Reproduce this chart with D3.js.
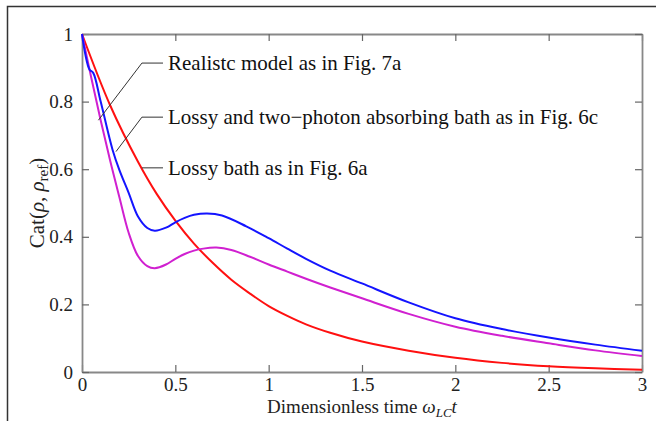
<!DOCTYPE html>
<html>
<head>
<meta charset="utf-8">
<script src="https://cdn.jsdelivr.net/npm/d3@7"></script>
<style>
  body { margin: 0; background: #fff; }
  svg { display: block; }
  svg text { font-family: "Liberation Serif", "Times New Roman", Times, "DejaVu Serif", serif; }
  .tick text { font-size: 19px; fill: #222; }
</style>
</head>
<body>
<script>
// sizes
const w = 656;
const h = 421;
const padL = 82, padR = 642, padT = 34, padB = 372;

// curves (time, value)
const redT  = [0, 0.15, 0.3, 0.4, 0.5, 0.6, 0.7, 0.8, 0.9, 1.0, 1.1, 1.2, 1.33, 1.5, 1.75, 2.0, 2.25, 2.5, 2.75, 3.0];
const redV  = [1.0, 0.79, 0.622, 0.527, 0.448, 0.38, 0.323, 0.273, 0.232, 0.195, 0.166, 0.141, 0.116, 0.09, 0.063, 0.042, 0.027, 0.017, 0.011, 0.007];

const blueT = [0, 0.04, 0.06, 0.1, 0.164, 0.2, 0.25, 0.3, 0.35, 0.39, 0.45, 0.5, 0.55, 0.6, 0.67, 0.75, 0.88, 1.0, 1.1, 1.2, 1.33, 1.5, 1.75, 2.0, 2.25, 2.5, 2.75, 3.0];
const blueV = [1.0, 0.895, 0.885, 0.80, 0.657, 0.598, 0.53, 0.46, 0.426, 0.418, 0.427, 0.443, 0.456, 0.465, 0.469, 0.463, 0.431, 0.396, 0.365, 0.335, 0.3, 0.262, 0.206, 0.159, 0.127, 0.102, 0.081, 0.063];

const magT  = [0, 0.05, 0.1, 0.15, 0.2, 0.25, 0.3, 0.35, 0.39, 0.45, 0.5, 0.55, 0.6, 0.65, 0.72, 0.8, 0.9, 1.0, 1.1, 1.2, 1.33, 1.5, 1.75, 2.0, 2.25, 2.5, 2.75, 3.0];
const magV  = [1.0, 0.87, 0.745, 0.627, 0.518, 0.412, 0.343, 0.313, 0.307, 0.318, 0.335, 0.349, 0.359, 0.365, 0.368, 0.361, 0.341, 0.318, 0.297, 0.276, 0.25, 0.218, 0.172, 0.134, 0.107, 0.085, 0.064, 0.047];

const xTicks = [0, 0.5, 1, 1.5, 2, 2.5, 3];
const yTicks = [0, 0.2, 0.4, 0.6, 0.8, 1];

// annotation labels: text, label row value, point on curve (t, v)
const notes = [
  {text: "Realistc model as in Fig. 7a", v: 0.914, pt: [0.088, 0.745]},
  {text: "Lossy and two\u2212photon absorbing bath as in Fig. 6c", v: 0.754, pt: [0.182, 0.652]},
  {text: "Lossy bath as in Fig. 6a", v: 0.604, pt: null}
];
const noteStart = 0.321, noteEnd = 0.434;

const svg = d3.select("body").append("svg")
  .attr("width", w).attr("height", h);

// frame of the figure
svg.append("path")
  .attr("d", `M7.5,${h} L7.5,6.5 L${w},6.5`)
  .attr("fill", "none").attr("stroke", "#333").attr("stroke-width", 1.5);

const x = d3.scaleLinear().domain([0, 3]).range([padL, padR]);
const y = d3.scaleLinear().domain([0, 1]).range([padB, padT]);

const fmt = d3.format("~g");

const axes = [
  svg.append("g").attr("transform", `translate(0,${padB})`)
     .call(d3.axisBottom(x).tickValues(xTicks).tickFormat(fmt).tickSizeInner(-7).tickSizeOuter(0).tickPadding(6)),
  svg.append("g").attr("transform", `translate(${padL},0)`)
     .call(d3.axisLeft(y).tickValues(yTicks).tickFormat(fmt).tickSizeInner(-7).tickSizeOuter(0).tickPadding(9)),
  svg.append("g").attr("transform", `translate(0,${padT})`)
     .call(d3.axisTop(x).tickValues(xTicks).tickFormat("").tickSizeInner(-7).tickSizeOuter(0)),
  svg.append("g").attr("transform", `translate(${padR},0)`)
     .call(d3.axisRight(y).tickValues(yTicks).tickFormat("").tickSizeInner(-7).tickSizeOuter(0))
];
axes.forEach(g => {
  g.attr("font-family", null);
  g.select(".domain").attr("stroke", "#888").attr("stroke-width", 1.8);
  g.selectAll(".tick line").attr("stroke", "#666").attr("stroke-width", 1.2);
});

const line = d3.line()
  .x(d => x(d[0]))
  .y(d => y(d[1]))
  .curve(d3.curveCatmullRom.alpha(0.5));

const series = [
  {t: redT, v: redV, color: "#ff1010"},
  {t: magT, v: magV, color: "#d020d0"},
  {t: blueT, v: blueV, color: "#1414ff"}
];
series.forEach(s => {
  svg.append("path")
    .datum(s.t.map((t, i) => [t, s.v[i]]))
    .attr("fill", "none")
    .attr("stroke", s.color)
    .attr("stroke-width", 2)
    .attr("d", line);
});

// leader lines and labels
notes.forEach(n => {
  let pts = [[noteEnd, n.v], [noteStart, n.v]];
  if (n.pt) pts.push(n.pt);
  svg.append("path")
    .attr("d", d3.line().x(d => x(d[0])).y(d => y(d[1]))(pts))
    .attr("fill", "none").attr("stroke", "#333").attr("stroke-width", 1);
  svg.append("text")
    .attr("x", x(noteEnd) + 5)
    .attr("y", y(n.v))
    .attr("dy", "0.33em")
    .style("font-size", "21px")
    .style("fill", "#111")
    .text(n.text);
});

// axis titles
const xl = svg.append("text")
  .attr("x", (padL + padR) / 2)
  .attr("y", 413)
  .attr("text-anchor", "middle")
  .style("font-size", "19px")
  .style("fill", "#222");
xl.append("tspan").text("Dimensionless time ");
xl.append("tspan").style("font-style", "italic").text("\u03c9");
xl.append("tspan").style("font-style", "italic").style("font-size", "13px").attr("dy", 4).text("LC");
xl.append("tspan").style("font-style", "italic").attr("dy", -4).text("t");

const yl = svg.append("text")
  .attr("transform", `translate(44,${(padT + padB) / 2}) rotate(-90)`)
  .attr("text-anchor", "middle")
  .style("font-size", "21px")
  .style("fill", "#222");
yl.append("tspan").text("Cat(");
yl.append("tspan").style("font-style", "italic").text("\u03c1");
yl.append("tspan").text(", ");
yl.append("tspan").style("font-style", "italic").text("\u03c1");
yl.append("tspan").style("font-size", "15px").attr("dy", 4).text("ref");
yl.append("tspan").attr("dy", -4).text(")");
</script>
</body>
</html>
